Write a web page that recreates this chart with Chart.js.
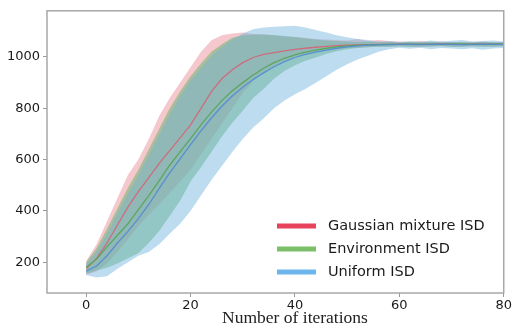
<!DOCTYPE html>
<html>
<head>
<meta charset="utf-8">
<script src="https://cdn.jsdelivr.net/npm/chart.js@4"></script>
<style>
html,body{margin:0;padding:0;background:#fff;}
#wrap{position:relative;width:513px;height:331px;}
</style>
</head>
<body>
<div id="wrap"><canvas id="c" width="513" height="331"></canvas></div>
<script>
const iterations = [0,2,4,6,8,10,12,14,16,18,20,22,24,26,28,30,32,34,36,38,40,42,44,46,48,50,52,54,56,58,60,62,64,66,68,70,72,74,76,78,80];
const seriesNames = ["Gaussian mixture ISD","Environment ISD","Uniform ISD"];
const xTicks = [0,20,40,60,80];
const yTicks = [200,400,600,800,1000];
const xTitle = "Number of iterations";

const gmMean  = [175,215,275,345,415,475,530,585,635,685,735,800,865,915,950,978,998,1010,1017,1024,1030,1034,1038,1041,1044,1046,1047,1048,1049,1049,1050,1050,1049,1050,1051,1050,1049,1050,1051,1050,1050];
const gmUpper = [205,270,360,450,540,600,680,770,840,900,960,1020,1065,1085,1092,1095,1090,1088,1084,1080,1078,1075,1070,1068,1066,1064,1070,1062,1066,1062,1060,1058,1062,1058,1060,1057,1059,1058,1060,1057,1058];
const gmLower = [150,165,195,240,290,340,385,425,470,515,560,620,680,740,800,860,905,940,965,985,1000,1010,1018,1024,1030,1034,1036,1038,1040,1040,1042,1041,1038,1042,1043,1041,1040,1042,1043,1041,1042];

const envMean  = [180,212,260,305,350,405,460,518,578,630,682,735,785,830,868,900,930,956,978,995,1008,1019,1027,1034,1039,1043,1045,1047,1048,1049,1049,1050,1050,1049,1050,1050,1051,1050,1049,1050,1050];
const envUpper = [200,255,330,410,490,560,640,720,800,865,925,975,1020,1050,1075,1085,1088,1088,1086,1082,1078,1072,1068,1064,1062,1060,1058,1060,1057,1058,1056,1058,1057,1059,1056,1058,1057,1056,1058,1057,1056];
const envLower = [155,168,178,195,215,235,275,322,380,440,515,570,630,690,744,790,840,875,915,945,968,985,998,1012,1022,1030,1035,1038,1040,1040,1041,1039,1041,1040,1042,1039,1040,1041,1039,1040,1041];

const uniMean  = [165,185,225,275,320,370,425,488,548,603,658,712,762,808,848,882,912,938,962,982,998,1010,1019,1027,1034,1039,1043,1046,1047,1048,1049,1049,1048,1049,1050,1049,1048,1049,1050,1049,1049];
const uniUpper = [195,242,312,392,468,540,618,698,778,848,908,958,1005,1040,1068,1092,1108,1115,1118,1120,1122,1115,1105,1095,1085,1077,1070,1066,1060,1062,1058,1062,1058,1064,1060,1063,1066,1060,1062,1064,1060];
const uniLower = [150,140,145,175,200,225,240,270,311,350,400,460,520,575,630,680,725,760,800,830,855,875,900,925,950,972,990,1005,1020,1030,1036,1032,1036,1030,1035,1033,1030,1034,1028,1033,1035];

const lineColors = ["rgba(215,95,115,0.85)","rgba(85,165,85,0.9)","rgba(80,140,210,0.9)"];
const fillColors = ["rgba(222,72,88,0.3)","rgba(100,180,100,0.5)","rgba(111,177,222,0.45)"];
const legendColors = ["#e8435d","#7bbf69","#6eb5ec"];

const pts = arr => arr.map((v,i)=>({x:iterations[i], y:v}));

function band(upper, lower, color, ord){
  return [
    {data:pts(upper), borderWidth:0, pointRadius:0, fill:'+1', backgroundColor:color, order:ord},
    {data:pts(lower), borderWidth:0, pointRadius:0, fill:false, order:ord}
  ];
}

const datasets = [
  ...band(gmUpper, gmLower, fillColors[0], 6),
  ...band(envUpper, envLower, fillColors[1], 5),
  ...band(uniUpper, uniLower, fillColors[2], 4),
  {data:pts(gmMean), borderColor:lineColors[0], borderWidth:1.3, pointRadius:0, fill:false, order:3},
  {data:pts(envMean), borderColor:lineColors[1], borderWidth:1.3, pointRadius:0, fill:false, order:2},
  {data:pts(uniMean), borderColor:lineColors[2], borderWidth:1.3, pointRadius:0, fill:false, order:1}
];

const frame = {
  id:'frame',
  afterDraw(chart){
    const a = chart.chartArea, ctx = chart.ctx;
    ctx.save();
    ctx.strokeStyle = '#a8a8a8';
    ctx.lineWidth = 1.5;
    ctx.strokeRect(a.left, a.top, a.right - a.left, a.bottom - a.top);
    // x axis title
    ctx.font = '17.5px "Liberation Serif"';
    ctx.fillStyle = '#222';
    ctx.textAlign = 'center';
    ctx.textBaseline = 'middle';
    ctx.fillText(xTitle, 295, 318);
    // legend
    ctx.textAlign = 'left';
    ctx.font = '14.5px "DejaVu Sans"';
    ctx.fillStyle = '#1a1a1a';
    const ys = [226, 249, 272];
    seriesNames.forEach((n,i)=>{
      ctx.strokeStyle = legendColors[i];
      ctx.lineWidth = 5;
      ctx.beginPath();
      ctx.moveTo(277, ys[i]); ctx.lineTo(316, ys[i]);
      ctx.stroke();
      ctx.fillText(n, 328, ys[i]);
    });
    ctx.restore();
  }
};

new Chart(document.getElementById('c'), {
  type:'line',
  data:{datasets},
  options:{
    responsive:false,
    animation:false,
    layout:{padding:{top:6,right:7,left:0,bottom:0}},
    plugins:{legend:{display:false}, tooltip:{enabled:false}},
    elements:{line:{tension:0}},
    scales:{
      x:{
        type:'linear', min:-7.5, max:80,
        afterFit(s){ s.height = 38; },
        afterBuildTicks(s){ s.ticks = xTicks.map(v=>({value:v})); },
        ticks:{color:'#1a1a1a', font:{family:'DejaVu Sans', size:13}, padding:1, maxRotation:0, callback:v=>String(v)},
        grid:{display:true, drawOnChartArea:false, tickLength:4, color:'#999'},
        border:{display:false},
        title:{display:false}
      },
      y:{
        min:80, max:1180,
        afterFit(s){ s.width = 47; },
        afterBuildTicks(s){ s.ticks = yTicks.map(v=>({value:v})); },
        ticks:{color:'#1a1a1a', font:{family:'DejaVu Sans', size:13}, padding:3, callback:v=>String(v)},
        grid:{display:true, drawOnChartArea:false, tickLength:4, color:'#999'},
        border:{display:false}
      }
    }
  },
  plugins:[frame]
});
</script>
</body>
</html>
